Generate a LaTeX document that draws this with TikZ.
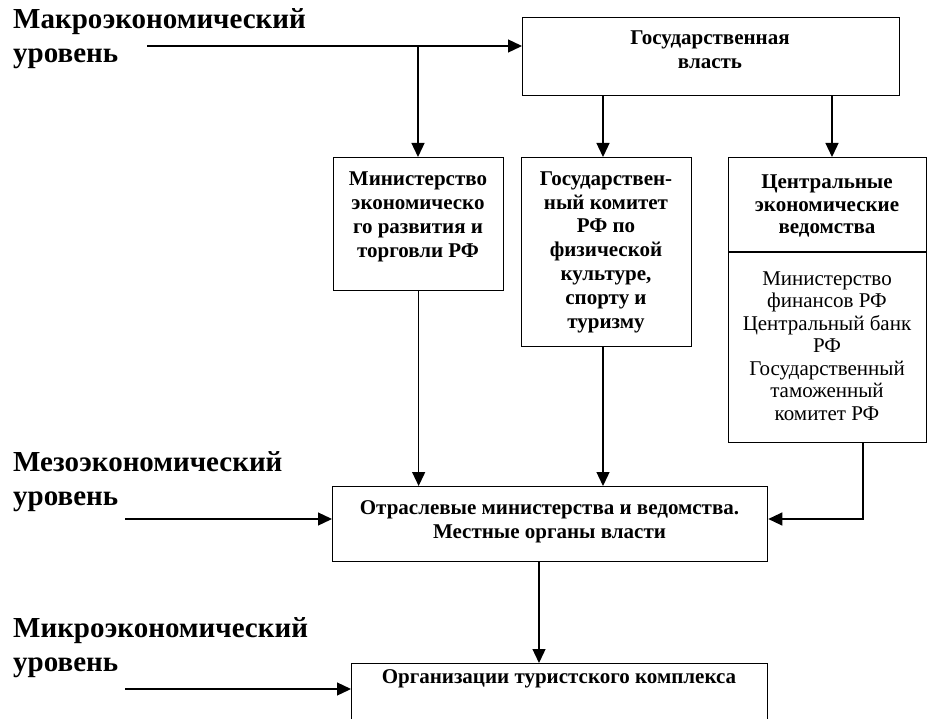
\documentclass[tikz,border=0pt]{standalone}
\usepackage{fontspec}
\setmainfont{Liberation Serif}
\usetikzlibrary{arrows.meta}
\begin{document}
\begin{tikzpicture}[x=1pt,y=-1pt,
  box/.style={draw, line width=1.3pt, inner sep=0pt, anchor=north west},
  conn/.style={line width=1.3pt, -{Triangle[length=14pt,width=13pt]}},
  plainline/.style={line width=1.3pt},
  lvl/.style={font=\fontsize{29}{34}\selectfont\bfseries, align=left, anchor=base west, inner sep=0pt},
  btxt/.style={font=\fontsize{21}{24}\selectfont\bfseries, align=center, inner sep=0pt, anchor=base},
  rtxt/.style={font=\fontsize{21}{22.5}\selectfont, align=center, inner sep=0pt, anchor=base}]
\useasboundingbox (0,0) rectangle (928,719);
\clip (0,0) rectangle (928,719);

% level labels (anchor = baseline of last line)
\node[lvl] (macro) at (13,63) {Макроэкономический\\уровень};
\node[lvl] (meso) at (13,505) {Мезоэкономический\\уровень};
\node[lvl] (micro) at (13,671) {Микроэкономический\\уровень};

% boxes
\node[box, minimum width=377pt, minimum height=78pt] (gov) at (522,17) {};
\node[box, minimum width=170pt, minimum height=133pt] (minec) at (333,157) {};
\node[box, minimum width=170pt, minimum height=189pt] (goskom) at (521,157) {};
\node[box, minimum width=198pt, minimum height=285pt] (central) at (728,157) {};
\node[box, minimum width=435pt, minimum height=75pt] (mezo) at (332,486) {};
\node[box, minimum width=416pt, minimum height=80pt] (org) at (351,663) {};

% divider of central box
\draw[plainline] (central.west |- 0,252) -- (central.east |- 0,252);

% texts (anchor = baseline of last line)
\node[btxt] (govt) at (710,69) {Государственная\\власть};
\node[btxt, font=\fontsize{21}{24.3}\selectfont\bfseries] (minect) at (418,258) {Министерство\\экономическо\\го развития и\\торговли РФ};
\node[btxt, font=\fontsize{21}{23.8}\selectfont\bfseries] (goskomt) at (606,328) {Государствен-\\ный комитет\\РФ по\\физической\\культуре,\\спорту и\\туризму};
\node[btxt, font=\fontsize{21}{22.5}\selectfont\bfseries] (centralt) at (827,234) {Центральные\\экономические\\ведомства};
\node[rtxt] (centrall) at (827,420) {Министерство\\финансов РФ\\Центральный банк\\РФ\\Государственный\\таможенный\\комитет РФ};
\node[btxt] (mezot) at (549.5,538) {Отраслевые министерства и ведомства.\\Местные органы власти};
\node[btxt] (orgt) at (559,683) {Организации туристского комплекса};

% connector coordinates
\coordinate (macroStart) at (147,46);
\coordinate (macroBranch) at (418,46);
\coordinate (mesoStart) at (125,519);
\coordinate (microStart) at (125,689);
\coordinate (centralOut) at (863,442);
\coordinate (centralBend) at (863,519);

% connectors
\draw[conn] (macroStart) -- (macroStart -| gov.west);
\draw[conn] (macroBranch) -- (macroBranch |- minec.north);
\draw[conn] (gov.south -| 603,0) -- (goskom.north -| 603,0);
\draw[conn] (gov.south -| 832,0) -- (central.north -| 832,0);
\draw[conn] (minec.south) -- (minec.south |- mezo.north);
\draw[conn] (goskom.south -| 603,0) -- (mezo.north -| 603,0);
\draw[conn] (centralOut) -- (centralBend) -- (centralBend -| mezo.east);
\draw[conn] (mesoStart) -- (mesoStart -| mezo.west);
\draw[conn] (mezo.south -| 539,0) -- (org.north -| 539,0);
\draw[conn] (microStart) -- (microStart -| org.west);
\end{tikzpicture}
\end{document}
